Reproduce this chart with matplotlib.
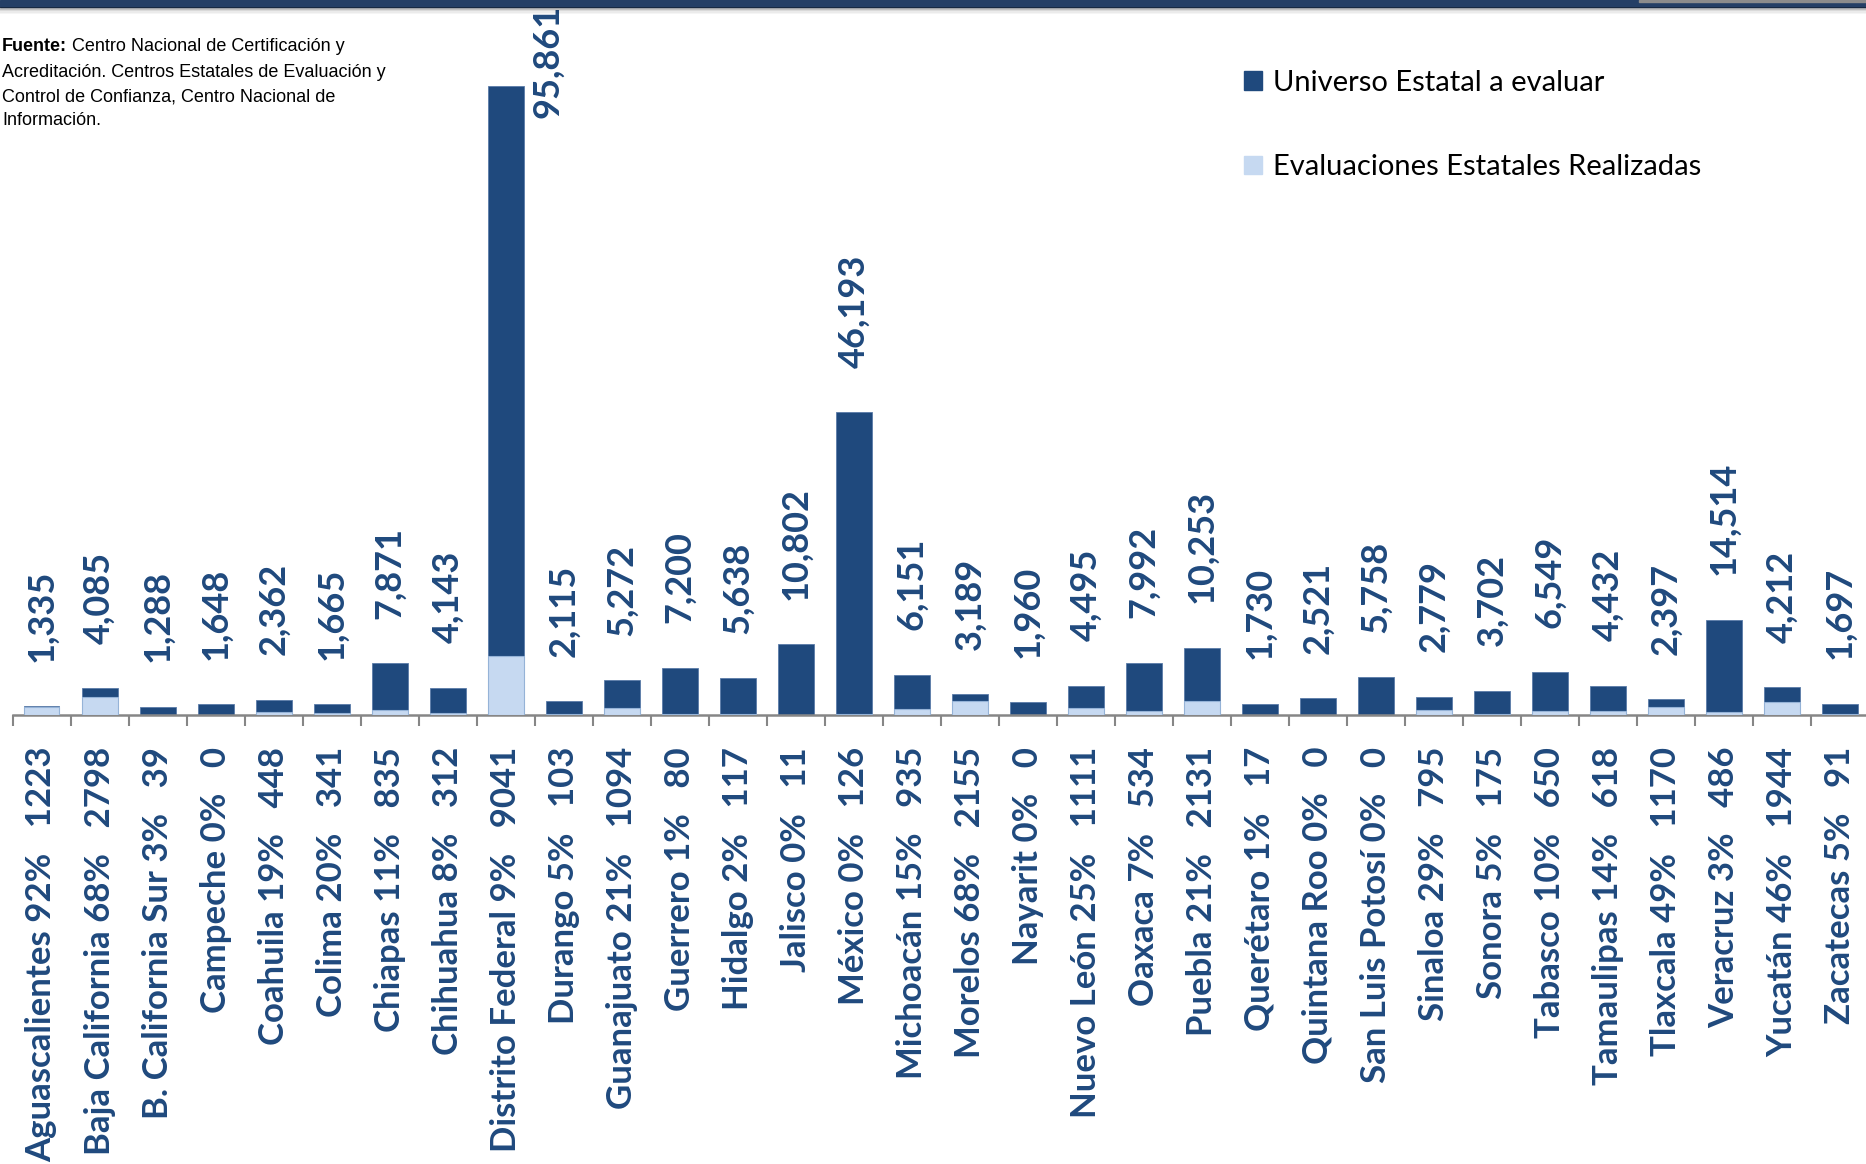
import numpy as np
import matplotlib
matplotlib.use("Agg")
import matplotlib.pyplot as plt
from matplotlib.patches import Rectangle, Patch

plt.rcParams['font.family'] = ['Lato', 'DejaVu Sans']

# Datos por entidad
estados = ["Aguascalientes", "Baja California", "B. California Sur", "Campeche",
           "Coahuila", "Colima", "Chiapas", "Chihuahua", "Distrito Federal",
           "Durango", "Guanajuato", "Guerrero", "Hidalgo", "Jalisco", "México",
           "Michoacán", "Morelos", "Nayarit", "Nuevo León", "Oaxaca", "Puebla",
           "Querétaro", "Quintana Roo", "San Luis Potosí", "Sinaloa", "Sonora",
           "Tabasco", "Tamaulipas", "Tlaxcala", "Veracruz", "Yucatán", "Zacatecas"]
universo = [1335, 4085, 1288, 1648, 2362, 1665, 7871, 4143, 95861, 2115, 5272,
            7200, 5638, 10802, 46193, 6151, 3189, 1960, 4495, 7992, 10253, 1730,
            2521, 5758, 2779, 3702, 6549, 4432, 2397, 14514, 4212, 1697]
realizadas = [1223, 2798, 39, 0, 448, 341, 835, 312, 9041, 103, 1094, 80, 117,
              11, 126, 935, 2155, 0, 1111, 534, 2131, 17, 0, 0, 795, 175, 650,
              618, 1170, 486, 1944, 91]
porcentaje = [92, 68, 3, 0, 19, 20, 11, 8, 9, 5, 21, 1, 2, 0, 0, 15, 68, 0, 25,
              7, 21, 1, 0, 0, 29, 5, 10, 14, 49, 3, 46, 5]

azul = '#1F497D'
celeste = '#C6D9F1'
gris = '#868686'

W, H = 1866, 1164
fig = plt.figure(figsize=(W/100, H/100), dpi=100)
ax = fig.add_axes([12.5/W, 1 - 715/H, 1 - 12.5/W, 715/H])

x = np.arange(len(estados))
ax.bar(x, universo, width=0.62, color=azul, edgecolor='#5A7BA8', linewidth=0.6, zorder=2)
ax.bar(x, realizadas, width=0.62, color=celeste, edgecolor='#95B3D7', linewidth=0.8, zorder=3)

# etiquetas de valor sobre las barras
vmax = max(universo)
for i, v in enumerate(universo):
    if v == vmax:
        ax.annotate(f"{v:,}", (i, v), textcoords="offset points", xytext=(30, 18),
                    rotation=90, ha='center', va='center', fontsize=26,
                    fontweight='bold', color=azul, annotation_clip=False)
    else:
        ax.annotate(f"{v:,}", (i, v), textcoords="offset points", xytext=(0, 32),
                    rotation=90, ha='center', va='bottom', fontsize=26,
                    fontweight='bold', color=azul)

etiquetas = [f"{e} {p}%   {r}" for e, p, r in zip(estados, porcentaje, realizadas)]
ax.set_xticks(x)
ax.set_xticklabels(etiquetas, rotation=90, ha='center', va='top', fontsize=25,
                   fontweight='bold', color=azul)
ax.set_xticks(np.arange(-0.5, len(estados), 1), minor=True)
ax.tick_params(axis='x', which='major', length=0, pad=23)
ax.tick_params(axis='x', which='minor', length=8, width=1.5, color=gris)
ax.set_yticks([])
ax.set_xlim(-0.5, 31.45)
ax.set_ylim(0, 109000)
for s in ['top', 'right', 'left']:
    ax.spines[s].set_visible(False)
ax.spines['bottom'].set_color(gris)
ax.spines['bottom'].set_linewidth(1.8)

# leyenda
handles = [Patch(color=azul), Patch(color=celeste)]
fig.legend(handles, ["Universo Estatal a evaluar", "Evaluaciones Estatales Realizadas"],
           loc='upper left', bbox_to_anchor=(1244/W, 1 - 70/H), frameon=False,
           fontsize=21, handlelength=0.6, handleheight=0.6, handletextpad=0.4,
           labelspacing=2.0, borderaxespad=0, borderpad=0)

# fuente
fuente = ['Liberation Sans', 'DejaVu Sans']
t1 = fig.text(2/W, 1 - 38/H, "Fuente:", family=fuente, fontsize=13,
              fontweight='bold', va='top', ha='left')
ax.annotate(" Centro Nacional de Certificación y", xy=(1, 0), xycoords=t1,
            va='bottom', ha='left', family=fuente, fontsize=13)
fig.text(2/W, 1 - 64/H,
         "Acreditación. Centros Estatales de Evaluación y\n"
         "Control de Confianza, Centro Nacional de\nInformación.",
         family=fuente, fontsize=13, va='top', ha='left', linespacing=1.54)

# franja superior
fig.patches.append(Rectangle((0, 1 - 7/H), 1, 7/H, transform=fig.transFigure,
                             color='#243F66', zorder=5))
fig.patches.append(Rectangle((1639/W, 1 - 2/H), 1, 2/H, transform=fig.transFigure,
                             color='#8C8C8C', zorder=6))
for k, a in enumerate([0.35, 0.25, 0.15, 0.08, 0.04]):
    fig.patches.append(Rectangle((0, 1 - (8 + 1.5*k)/H), 1, 1.5/H,
                                 transform=fig.transFigure, color='black',
                                 alpha=a, zorder=5, linewidth=0))

fig.savefig("out.png", dpi=100)
